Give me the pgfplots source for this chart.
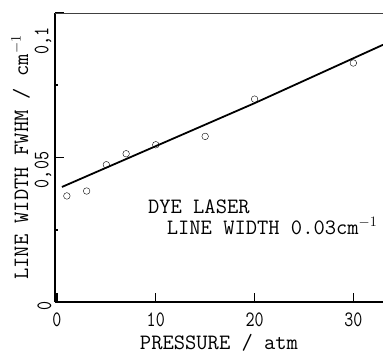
\documentclass[border=0pt]{standalone}
\usepackage{pgfplots}
\pgfplotsset{compat=1.18}
\usepackage{fontspec}
\setmainfont{Latin Modern Mono}
\newfontfamily\tickfont{Latin Modern Mono}[FakeStretch=0.8]
\begin{document}
\begin{tikzpicture}
\begin{axis}[
  scale only axis, width=328bp, height=289bp,
  xmin=-0.2, xmax=33, ymin=0, ymax=0.1,
  axis x line=bottom, axis y line=left,
  axis line style={line width=1.4pt,-},
  /pgf/number format/assume math mode=true,
  xtick={0,10,20,30}, ytick={0,0.05,0.1},
  minor ytick={0.025,0.075},
  yticklabels={0,{0,05\hspace*{17bp}},{0,1\hspace*{48bp}}},
  tick align=inside, major tick length=9bp, minor tick length=3bp,
  every tick/.style={line width=1.2pt,black},
  ytick style={line width=1.6pt},
  xticklabel style={font=\tickfont\fontsize{22}{22}\selectfont, yshift=-7bp},
  yticklabel style={font=\tickfont\fontsize{22}{22}\selectfont, rotate=90, anchor=south, xshift=-4bp},
  xlabel={PRESSURE / atm},
  ylabel={LINE WIDTH FWHM / cm$^{-1}$},
  label style={font=\fontsize{22}{22}\selectfont},
  xlabel style={yshift=-4bp, inner sep=0pt},
  ylabel style={yshift=-2bp},
  clip=false,
]
\addplot[only marks, mark=o, mark size=3.3bp, thin] coordinates {
  (1,0.0367) (3,0.0384) (5,0.0475) (7,0.0513) (10,0.0544) (15,0.0573) (20,0.0702) (30,0.0827)
};
\addplot[no marks, line width=1.8pt] coordinates {
  (0.5,0.0398) (20,0.0688) (33,0.0890)
};
\draw[line width=0.8pt, black!75] (rel axis cs:0,1) -- (rel axis cs:1,1);
\node[anchor=west, font=\fontsize{22}{22}\selectfont, inner sep=0pt] at (axis cs:9.2,0.0329) {DYE LASER};
\node[anchor=west, font=\fontsize{22}{22}\selectfont, inner sep=0pt] at (axis cs:11.1,0.0263) {LINE WIDTH 0.03cm$^{-1}$};
\coordinate (bl) at (rel axis cs:0,0);
\coordinate (tr) at (rel axis cs:1,1);
\end{axis}
\pgfresetboundingbox
\useasboundingbox ([xshift=-55bp,yshift=-54bp]bl) rectangle ([yshift=13bp]tr);
\end{tikzpicture}
\end{document}
